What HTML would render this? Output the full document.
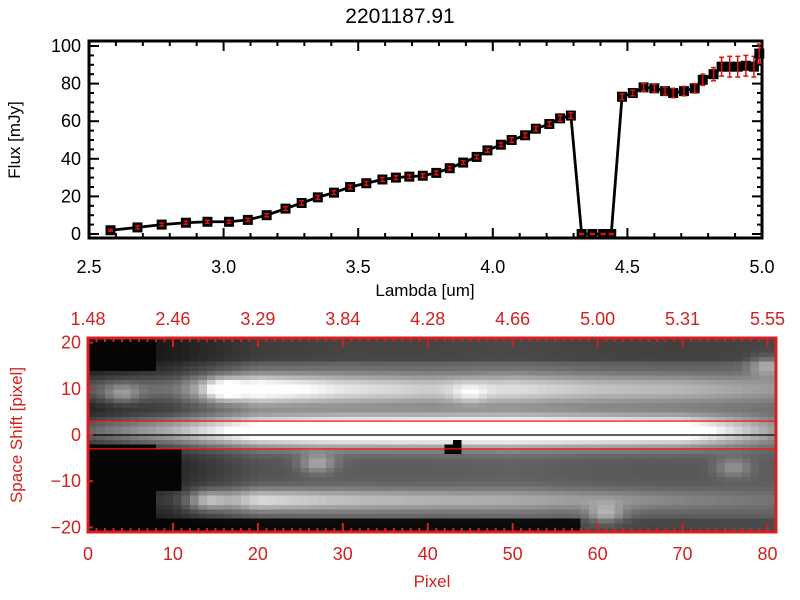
<!DOCTYPE html>
<html><head><meta charset="utf-8"><style>
html,body{margin:0;padding:0;background:#fff;}
svg{display:block;font-family:"Liberation Sans",sans-serif;}
</style></head><body>
<svg id="root" width="800" height="600" viewBox="0 0 800 600" xmlns="http://www.w3.org/2000/svg">
<text x="400" y="23" font-size="21" text-anchor="middle">2201187.91</text>
<g id="topplot"></g>
<g id="botplot"></g>
</svg>
<script>
// ---- Top spectrum data ----
const lam = [2.58,2.68,2.77,2.86,2.94,3.02,3.09,3.16,3.23,3.29,3.35,3.41,3.47,3.53,3.59,3.64,3.69,3.74,3.79,3.84,3.89,3.94,3.98,4.03,4.07,4.12,4.16,4.21,4.25,4.29,4.33,4.37,4.41,4.44,4.48,4.52,4.56,4.60,4.64,4.67,4.71,4.75,4.78,4.82,4.85,4.88,4.91,4.94,4.97,4.99];
const flux = [2,3.5,5,6,6.5,6.5,7.5,10,13.5,16.5,19.5,22,25,27,29,30,30.5,31,32.5,35,38,41,44.5,47.5,50,52.5,56,58.5,61.5,63,0,0,0,0,73,75,78,77.5,76,75,76,77.5,82,85,89,89,89,89.5,89,96];
const ferr = [0.5,0.8,0.8,0.8,0.8,0.8,0.8,0.8,1,1.2,1,1,1,1,1,1,1,1,1,1,1,1,1,1,1.2,1.2,1.2,1.2,1.5,1.5,0.3,0.3,0.3,0.3,1.5,1.5,2,2,2,2.5,2.5,2.5,3,3.5,5,5.5,5.5,5.5,5.5,5];
const xTicks = [2.5,3.0,3.5,4.0,4.5,5.0];
const xTickLabels = ["2.5","3.0","3.5","4.0","4.5","5.0"];
const yTicks = [0,20,40,60,80,100];
const yTickLabels = ["0","20","40","60","80","100"];

const NS="http://www.w3.org/2000/svg";
function mk(parent,tag,attrs,text){const e=document.createElementNS(NS,tag);for(const k in attrs)e.setAttribute(k,attrs[k]);if(text!==undefined)e.textContent=text;parent.appendChild(e);return e;}

const T={l:89,r:762,t:41,b:238};
const sx=v=>T.l+(v-2.5)/(5.0-2.5)*(T.r-T.l);
const sy=v=>234-(v-0)/100*(234-46);
const topG=document.getElementById('topplot');
for(let i=0;i<=25;i++){const v=2.5+i*0.1;const x=sx(v);const L=(i%5==0)?10:5;
 mk(topG,'line',{x1:x,y1:T.b,x2:x,y2:T.b-L,stroke:'#000','stroke-width':2});
 mk(topG,'line',{x1:x,y1:T.t,x2:x,y2:T.t+L,stroke:'#000','stroke-width':2});}
for(let i=0;i<=20;i++){const v=i*5;const y=sy(v);if(y<T.t)continue;const L=(i%4==0)?10:5;
 mk(topG,'line',{x1:T.l,y1:y,x2:T.l+L,y2:y,stroke:'#000','stroke-width':2});
 mk(topG,'line',{x1:T.r,y1:y,x2:T.r-L,y2:y,stroke:'#000','stroke-width':2});}
const frame=mk(topG,'rect',{x:T.l,y:T.t,width:T.r-T.l,height:T.b-T.t,fill:'none',stroke:'#000','stroke-width':3});


xTicks.forEach((v,i)=>{const t=mk(topG,'text',{x:sx(v),y:273,'font-size':18,'text-anchor':'middle'},xTickLabels[i]);
 
 });
yTicks.forEach((v,i)=>{const t=mk(topG,'text',{x:81,y:sy(v)+6,'font-size':18,'text-anchor':'end'},yTickLabels[i]);
 
 });
let xt=mk(topG,'text',{x:425,y:296,'font-size':17,'text-anchor':'middle'},'Lambda [um]');


let yt=mk(topG,'text',{x:0,y:0,'font-size':17,'text-anchor':'middle',transform:'translate(20,140) rotate(-90)'},'Flux [mJy]');


let pts=lam.map((v,i)=>sx(v)+','+sy(flux[i])).join(' ');
let pl=mk(topG,'polyline',{points:pts,fill:'none',stroke:'#000','stroke-width':2.8});


lam.forEach((v,i)=>{const x=sx(v),y=sy(flux[i]);
 const m=mk(topG,'rect',{x:x-5,y:y-5,width:10,height:10,fill:'#000'});
 
 
 const y1=sy(flux[i]+ferr[i]),y2=sy(flux[i]-ferr[i]);
 const g=mk(topG,'g',{stroke:'#e01010','stroke-width':1.5});
 
 
 mk(g,'line',{x1:x,y1:y1,x2:x,y2:y2});mk(g,'line',{x1:x-2.5,y1:y1,x2:x+2.5,y2:y1});mk(g,'line',{x1:x-2.5,y1:y2,x2:x+2.5,y2:y2});
});

// ---- Bottom image data ----
const pixTicks=[0,10,20,30,40,50,60,70,80];
const lamTickLabels=["1.48","2.46","3.29","3.84","4.28","4.66","5.00","5.31","5.55"];
const shiftTicks=[20,10,0,-10,-20];
const shiftTickLabels=["20","10","0","\u221210","\u221220"];
const bgLevel=[0.05,0.15,0.32,0.36,0.36,0.38,0.35,0.34,0.36];
const centralAmp=[0.35,0.55,0.85,0.92,0.95,0.95,0.92,0.85,0.3];
const upperAmp=[0.3,0.3,0.8,0.55,0.45,0.5,0.42,0.38,0.25];
const lowerAmp=[0,0.1,0.55,0.4,0.35,0.3,0.25,0.18,0.1];
const bandCenters=[1,10,-14];
const bandWidths=[2.3,2.3,1.7];
const blobX=[27,61,76,80,45,4,14,16];
const blobY=[-6,-17,-7,15,9,9,-14,10];
const blobAmp=[0.3,0.3,0.22,0.3,0.18,0.25,0.25,0.4];
const maskX=[42,43,42,43,43];
const maskY=[-2,-2,-3,-3,-1];

const B={l:88,r:776,t:338,b:532};
const NX=81, YMIN=-21, YMAX=21;
const px=v=>B.l+v/NX*(B.r-B.l);
const py=v=>B.t+(YMAX-v)/(YMAX-YMIN)*(B.b-B.t);
function keyv(arr,x){const f=x/10;const i=Math.min(7,Math.floor(f));const t=f-i;return arr[i]*(1-t)+arr[i+1]*t;}
const botG=document.getElementById('botplot');
const imgG=mk(botG,'g',{'shape-rendering':'crispEdges'});


const amps=[centralAmp,upperAmp,lowerAmp];
for(let ix=0;ix<NX;ix++){for(let iy=YMIN;iy<YMAX;iy++){
 const xc=ix+0.5,yc=iy+0.5;
 let v=keyv(bgLevel,xc);
 if(yc>16) v*=0.75;
 if(yc<-17.5) v*= (xc<58?0.1:0.8);
 for(let b=0;b<3;b++){const d=(yc-bandCenters[b])/bandWidths[b];v+=keyv(amps[b],xc)*Math.exp(-d*d/2);}
 for(let k=0;k<blobX.length;k++){const dx=xc-blobX[k],dy=yc-blobY[k];v+=blobAmp[k]*Math.exp(-(dx*dx+dy*dy)/(2*2.2));}
 if(xc<8 && (yc<-1.5 || yc>14)) v=0.02;
 if(xc<11 && yc<-3 && yc>-12) v=0.02;
 for(let k=0;k<maskX.length;k++){if(ix===maskX[k]&&iy===maskY[k]-1)v=0;}
 v=Math.max(0,Math.min(1,v));const g=Math.round(v*255);
 const y0=py(iy+1),y1=py(iy);
 const c=mk(imgG,'rect',{x:px(ix),y:y0,width:px(ix+1)-px(ix)+0.5,height:y1-y0+0.5,fill:`rgb(${g},${g},${g})`});
 
 
}}
const RED='#d42020';
[3,-3].forEach(v=>{const l=mk(botG,'line',{x1:B.l,y1:py(v),x2:B.r,y2:py(v),stroke:'#ff1010','stroke-width':1.3});
 
 });
let zl=mk(botG,'line',{x1:B.l,y1:py(0),x2:B.r,y2:py(0),stroke:'#000','stroke-width':1.3});


for(let i=0;i<=NX;i++){const x=px(i);const L=(i%10==0)?9:4;
 mk(botG,'line',{x1:x,y1:B.b,x2:x,y2:B.b-L,stroke:RED,'stroke-width':2});
 mk(botG,'line',{x1:x,y1:B.t,x2:x,y2:B.t+L,stroke:RED,'stroke-width':2});}
[20,10,0,-10,-20].forEach(v=>{mk(botG,'line',{x1:B.l,y1:py(v),x2:B.l+5,y2:py(v),stroke:RED,'stroke-width':2});});
let bf=mk(botG,'rect',{x:B.l,y:B.t,width:B.r-B.l,height:B.b-B.t,fill:'none',stroke:RED,'stroke-width':3});


pixTicks.forEach((v,i)=>{
 const a=mk(botG,'text',{x:px(v),y:560,'font-size':18,'text-anchor':'middle',fill:RED},String(v));
 
 
 const b=mk(botG,'text',{x:px(v),y:325,'font-size':18,'text-anchor':'middle',fill:RED},lamTickLabels[i]);
 
 });
shiftTicks.forEach((v,i)=>{const t=mk(botG,'text',{x:81,y:py(v)+6,'font-size':18,'text-anchor':'end',fill:RED},shiftTickLabels[i]);
 
 });
let bx=mk(botG,'text',{x:432,y:587,'font-size':17,'text-anchor':'middle',fill:RED},'Pixel');


let by=mk(botG,'text',{x:0,y:0,'font-size':17,'text-anchor':'middle',fill:RED,transform:'translate(22,435) rotate(-90)'},'Space Shift [pixel]');


</script>
</body></html>
